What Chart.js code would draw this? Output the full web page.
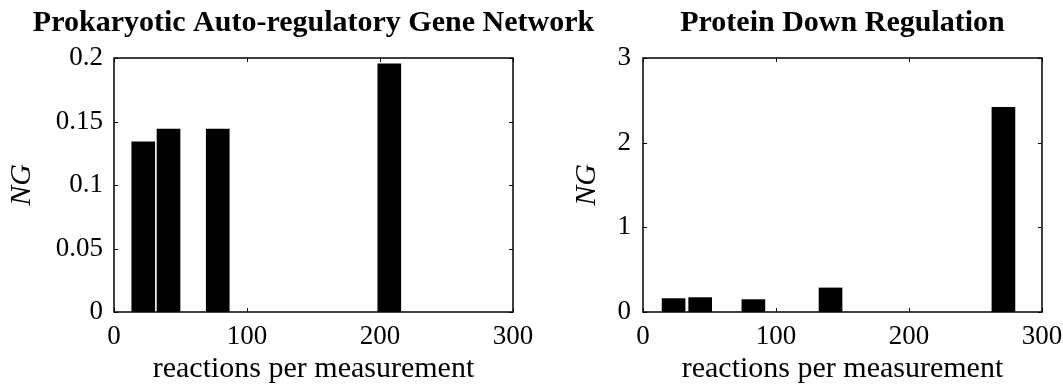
<!DOCTYPE html>
<html>
<head>
<meta charset="utf-8">
<script src="https://cdn.jsdelivr.net/npm/chart.js@4.4.1/dist/chart.umd.min.js"></script>
<style>
    html, body { margin: 0; padding: 0; background: #fff; overflow: hidden; width: 1063px; height: 384px; }
    canvas { position: absolute; top: 0; }
    #leftChart { left: 0; }
    #rightChart { left: 560px; }
</style>
</head>
<body>
<canvas id="leftChart" width="627" height="384"></canvas>
<canvas id="rightChart" width="565" height="384"></canvas>
<script>
// Left panel: prokaryotic auto-regulatory gene network
const leftTitle = 'Prokaryotic Auto-regulatory Gene Network';
const leftX = [22, 41, 78, 207];
const leftNG = [0.134, 0.144, 0.144, 0.1955];
const leftYTicks = ['0', '0.05', '0.1', '0.15', '0.2'];

// Right panel: protein down regulation
const rightTitle = 'Protein Down Regulation';
const rightX = [23, 43, 83, 141, 271];
const rightNG = [0.158, 0.170, 0.146, 0.284, 2.416];
const rightYTicks = ['0', '1', '2', '3'];

// Shared axis text
const xTicks = ['0', '100', '200', '300'];
const xLabel = 'reactions per measurement';
const yLabel = 'NG';

const serif = 'Liberation Serif';

// Frame round the plot area plus small inward tick marks on all four sides
const frameTicks = {
    id: 'frameTicks',
    afterDatasetsDraw(chart) {
        const { ctx, chartArea: a, scales: { x, y } } = chart;
        const len = 4;
        ctx.save();
        ctx.strokeStyle = '#000';
        ctx.lineWidth = 1;
        ctx.beginPath();
        x.ticks.forEach(t => {
            const px = Math.round(x.getPixelForValue(t.value)) + 0.5;
            ctx.moveTo(px, a.bottom); ctx.lineTo(px, a.bottom - len);
            ctx.moveTo(px, a.top); ctx.lineTo(px, a.top + len);
        });
        y.ticks.forEach(t => {
            const py = Math.round(y.getPixelForValue(t.value)) + 0.5;
            ctx.moveTo(a.left, py); ctx.lineTo(a.left + len, py);
            ctx.moveTo(a.right, py); ctx.lineTo(a.right - len, py);
        });
        ctx.stroke();
        ctx.lineWidth = 1.5;
        ctx.strokeRect(a.left, a.top, a.right - a.left, a.bottom - a.top);
        ctx.restore();
    }
};

function makeChart(canvasId, xs, ys, yMax, yStep, yTicks, title, sideWidth, yTitlePad, yTickPad) {
    const ctx = document.getElementById(canvasId).getContext('2d');
    return new Chart(ctx, {
        type: 'bar',
        data: {
            datasets: [{
                data: xs.map((v, i) => ({ x: v, y: ys[i] })),
                backgroundColor: '#000',
                borderWidth: 0,
                barThickness: 23
            }]
        },
        options: {
            responsive: false,
            animation: false,
            layout: { padding: 0 },
            plugins: {
                legend: { display: false },
                tooltip: { enabled: false },
                title: {
                    display: true,
                    text: title,
                    color: '#000',
                    font: { family: serif, size: 30, weight: 'bold', lineHeight: 1.2 },
                    padding: { top: 5, bottom: 17 }
                }
            },
            scales: {
                x: {
                    type: 'linear',
                    min: 0,
                    max: 300,
                    offset: false,
                    grid: { display: false, drawTicks: false },
                    border: { display: false },
                    ticks: {
                        stepSize: 100,
                        padding: 9,
                        maxRotation: 0,
                        autoSkip: false,
                        color: '#000',
                        font: { family: serif, size: 27 },
                        callback: (v, i) => xTicks[i]
                    },
                    title: {
                        display: true,
                        text: xLabel,
                        color: '#000',
                        font: { family: serif, size: 30, lineHeight: 1 },
                        padding: { top: 0, bottom: 0 }
                    },
                    afterFit(s) { s.height = 72; }
                },
                y: {
                    min: 0,
                    max: yMax,
                    grid: { display: false, drawTicks: false },
                    border: { display: false },
                    ticks: {
                        stepSize: yStep,
                        padding: yTickPad,
                        color: '#000',
                        font: { family: serif, size: 27 },
                        callback: (v, i) => yTicks[i]
                    },
                    title: {
                        display: true,
                        text: yLabel,
                        color: '#000',
                        font: { family: serif, size: 30, style: 'italic', lineHeight: 1.2 },
                        padding: { top: yTitlePad, bottom: 0 }
                    },
                    afterFit(s) { s.width = sideWidth; }
                },
                // empty right-hand box so the title centres over the plot
                y2: {
                    position: 'right',
                    min: 0,
                    max: yMax,
                    grid: { display: false, drawTicks: false },
                    border: { display: false },
                    ticks: { display: false },
                    afterFit(s) { s.width = sideWidth; }
                }
            }
        },
        plugins: [frameTicks]
    });
}

makeChart('leftChart', leftX, leftNG, 0.2, 0.05, leftYTicks, leftTitle, 114, 4, 11);
makeChart('rightChart', rightX, rightNG, 3, 1, rightYTicks, rightTitle, 83, 9, 12);
</script>
</body>
</html>
